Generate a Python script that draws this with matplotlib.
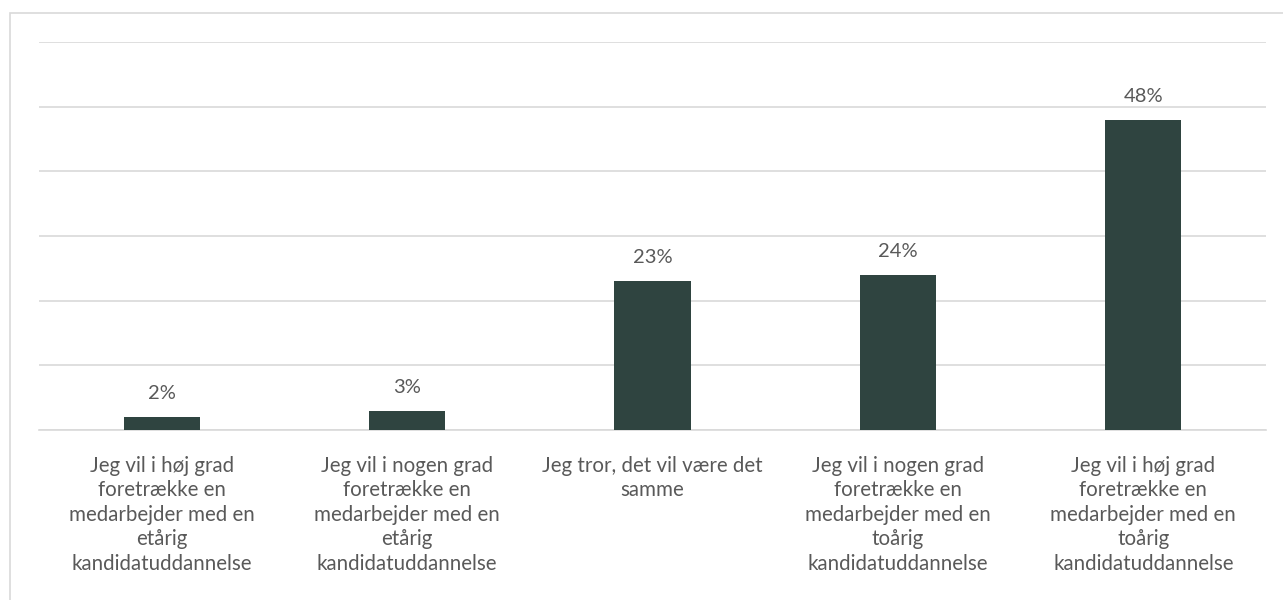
import matplotlib.pyplot as plt
from matplotlib.patches import Rectangle

categories = [
    "Jeg vil i høj grad\nforetrække en\nmedarbejder med en\netårig\nkandidatuddannelse",
    "Jeg vil i nogen grad\nforetrække en\nmedarbejder med en\netårig\nkandidatuddannelse",
    "Jeg tror, det vil være det\nsamme",
    "Jeg vil i nogen grad\nforetrække en\nmedarbejder med en\ntoårig\nkandidatuddannelse",
    "Jeg vil i høj grad\nforetrække en\nmedarbejder med en\ntoårig\nkandidatuddannelse",
]
values = [2, 3, 23, 24, 48]
labels = ["2%", "3%", "23%", "24%", "48%"]

plt.rcParams['font.family'] = ['Lato', 'DejaVu Sans']
text_color = "#595959"
bar_color = "#2F4440"

W, H = 1283, 600
fig = plt.figure(figsize=(W / 100, H / 100), dpi=100)
fig.patches.append(Rectangle((10 / W, -0.1), 1.2, (600 - 13) / H + 0.1,
                             transform=fig.transFigure, fill=False,
                             edgecolor="#D9D9D9", linewidth=1.2))

ax = fig.add_axes([39 / W, (600 - 430) / H, (1266 - 39) / W, (430 - 42) / H])
x = range(len(values))
ax.bar(x, values, width=0.31, color=bar_color, zorder=3)
for i, v in enumerate(values):
    ax.text(i, v + 2.3, labels[i], ha="center", va="bottom",
            fontsize=14.5, color=text_color)

ax.set_xlim(-0.5, len(values) - 0.5)
ax.set_ylim(0, 60)
ax.set_yticks(range(0, 61, 10))
ax.yaxis.grid(True, color="#D9D9D9", linewidth=1.2, zorder=0)
ax.tick_params(axis="y", left=False, labelleft=False)
ax.tick_params(axis="x", bottom=False, pad=15)
ax.set_xticks(list(x))
ax.set_xticklabels(categories, fontsize=14.8, color=text_color, linespacing=1.28)
for s in ["top", "right", "left"]:
    ax.spines[s].set_visible(False)
ax.spines["bottom"].set_color("#D9D9D9")
ax.spines["bottom"].set_linewidth(1.2)

fig.savefig("out.png", dpi=100)
